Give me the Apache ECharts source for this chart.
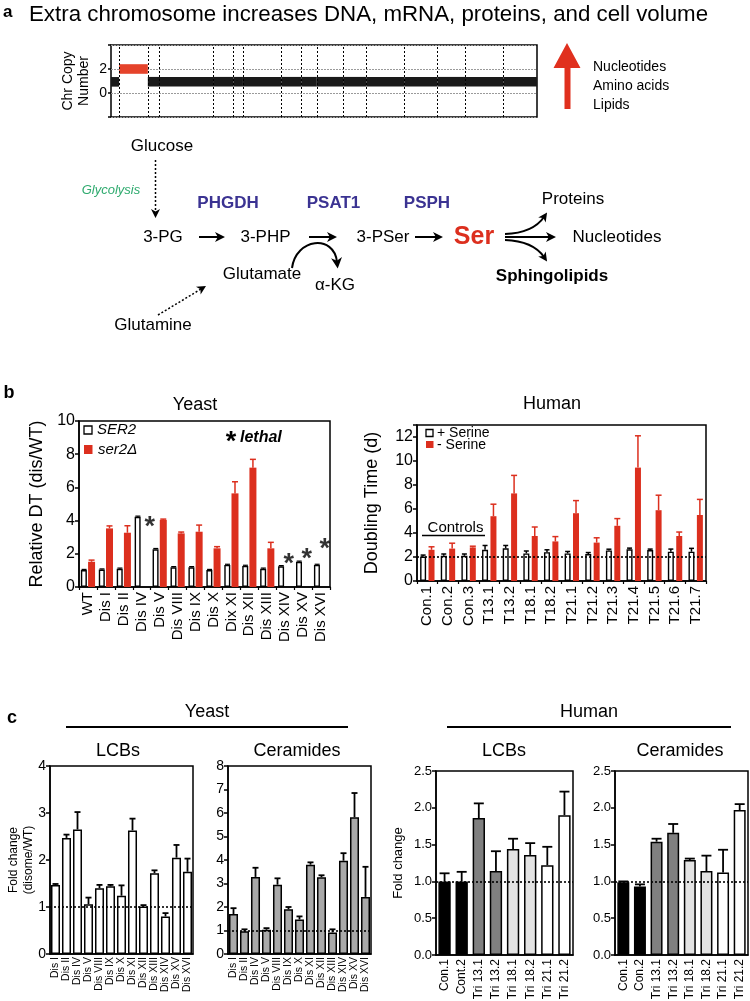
<!DOCTYPE html>
<html>
<head>
<meta charset="utf-8">
<script src="https://cdn.jsdelivr.net/npm/echarts@6/dist/echarts.min.js"></script>
<style>
  html, body { margin: 0; padding: 0; background: #fff; }
  #main { width: 750px; height: 1001px; }
</style>
</head>
<body>
<div id="main"></div>
<script>
var FONT = 'Liberation Sans, Arial, Helvetica, sans-serif';
var RED = '#dc2f1e';

// ---- panel a: copy number along the yeast genome (chromosome lengths in kb)
var chrLengths = [230.2, 813.2, 316.6, 1531.9, 576.9, 270.2, 1090.9, 562.6, 439.9, 745.8, 666.8, 1078.2, 924.4, 784.3, 1091.3, 948.1];
var chrCopy = [0.93, 2.0, 0.94, 0.94, 0.94, 0.94, 0.94, 0.94, 0.94, 0.94, 0.94, 0.94, 0.94, 0.94, 0.94, 0.94];

// ---- panel b: yeast relative doubling time
var yeastStrains = ['WT', 'Dis I', 'Dis II', 'Dis IV', 'Dis V', 'Dis VIII', 'Dis IX', 'Dis X', 'Dix XI', 'Dis XII', 'Dis XIII', 'Dis XIV', 'Dis XV', 'Dis XVI'];
var ser2DT = [1.02, 1.05, 1.1, 4.23, 2.27, 1.19, 1.19, 1.02, 1.33, 1.27, 1.1, 1.25, 1.52, 1.33];
var ser2Err = [0.04, 0.04, 0.04, 0.04, 0.05, 0.04, 0.04, 0.04, 0.04, 0.04, 0.04, 0.04, 0.04, 0.04];
var ser2delDT = [1.52, 3.53, 3.27, null, 4.04, 3.23, 3.33, 2.33, 5.64, 7.19, 2.33, null, null, null];
var ser2delErr = [0.1, 0.15, 0.42, 0, 0.05, 0.08, 0.4, 0.1, 0.7, 0.5, 0.36, 0, 0, 0];
var lethalStrains = ['Dis IV', 'Dis XIV', 'Dis XV', 'Dis XVI'];
var lethalMarkY = [4.02, 1.8, 2.1, 2.65];

// ---- panel b: human doubling time (days)
var humanLines = ['Con.1', 'Con.2', 'Con.3', 'T13.1', 'T13.2', 'T18.1', 'T18.2', 'T21.1', 'T21.2', 'T21.3', 'T21.4', 'T21.5', 'T21.6', 'T21.7'];
var plusSerine = [2.04, 2.1, 2.1, 2.6, 2.72, 2.3, 2.4, 2.3, 2.25, 2.55, 2.64, 2.58, 2.44, 2.44];
var plusSerineErr = [0.12, 0.15, 0.15, 0.36, 0.24, 0.2, 0.2, 0.16, 0.12, 0.1, 0.1, 0.08, 0.22, 0.28];
var minusSerine = [2.6, 2.7, 2.8, 5.4, 7.3, 3.75, 3.3, 5.65, 3.2, 4.6, 9.45, 5.9, 3.75, 5.5];
var minusSerineErr = [0.25, 0.45, 0.1, 1.0, 1.5, 0.75, 0.4, 1.05, 0.4, 0.6, 2.65, 1.25, 0.33, 1.3];

// ---- panel c: sphingolipids, yeast disomes (fold change vs WT)
var yeastDisomes = ['Dis I', 'Dis II', 'Dis IV', 'Dis V', 'Dis VIII', 'Dis IX', 'Dis X', 'Dis XI', 'Dis XII', 'Dis XIII', 'Dis XIV', 'Dis XV', 'Dis XVI'];
var yeastLCB = [1.47, 2.47, 2.65, 1.06, 1.4, 1.44, 1.24, 2.63, 1.01, 1.72, 0.8, 2.05, 1.75];
var yeastLCBErr = [0.02, 0.07, 0.37, 0.14, 0.07, 0.03, 0.22, 0.25, 0.03, 0.06, 0.07, 0.27, 0.28];
var yeastCer = [1.7, 0.97, 3.28, 1.03, 2.95, 1.9, 1.47, 3.8, 3.27, 0.92, 3.97, 5.82, 2.43];
var yeastCerErr = [0.25, 0.08, 0.39, 0.07, 0.27, 0.1, 0.13, 0.1, 0.08, 0.13, 0.32, 1.03, 1.28];

// ---- panel c: sphingolipids, human trisomies
var humanLCBLines = ['Con.1', 'Cont.2', 'Tri 13.1', 'Tri 13.2', 'Tri 18.1', 'Tri 18.2', 'Tri 21.1', 'Tri 21.2'];
var humanCerLines = ['Con.1', 'Con.2', 'Tri 13.1', 'Tri 13.2', 'Tri 18.1', 'Tri 18.2', 'Tri 21.1', 'Tri 21.2'];
var humanLCB = [1.0, 1.0, 1.86, 1.14, 1.44, 1.36, 1.22, 1.9];
var humanLCBErr = [0.11, 0.13, 0.2, 0.27, 0.14, 0.16, 0.25, 0.32];
var humanCer = [0.99, 0.93, 1.54, 1.66, 1.29, 1.14, 1.12, 1.97];
var humanCerErr = [0.01, 0.03, 0.04, 0.12, 0.02, 0.21, 0.31, 0.08];

// fill per karyotype group (control, T13, T18, T21)
var groupFill = ['#000', '#000', '#808080', '#808080', '#e3e3e3', '#e3e3e3', '#fff', '#fff'];

// chromosome segments [start, end, copy]
var chrSegs = [];
var acc = 0;
chrLengths.forEach(function (l, i) { chrSegs.push([acc, acc + l, chrCopy[i]]); acc += l; });
var genomeLen = acc;
var chrBounds = chrSegs.slice(0, -1).map(function (s) { return { xAxis: s[1] }; });

var myChart = echarts.init(document.getElementById('main'));

function gridBox(left, top, width, height) {
  return { left: left, top: top, width: width, height: height, show: true, borderColor: '#000', borderWidth: 1.5,
    containLabel: false, outerBoundsMode: 'none' };
}

function catAxis(gi, data, fs, margin, tick) {
  return { type: 'category', gridIndex: gi, data: data,
    axisLine: { show: true, lineStyle: { color: '#000', width: 1.5 } },
    axisTick: { show: !!tick, length: 3, lineStyle: { color: '#000', width: 1.2 } },
    axisLabel: { interval: 0, rotate: 90, fontSize: fs, color: '#000', fontFamily: FONT, margin: margin },
    splitLine: { show: false } };
}

function valAxis(gi, min, max, step, fs, fmt) {
  return { type: 'value', gridIndex: gi, min: min, max: max, interval: step,
    axisLine: { show: true, lineStyle: { color: '#000', width: 1.5 } },
    axisTick: { show: true, length: 4, lineStyle: { color: '#000', width: 1.5 } },
    axisLabel: { fontSize: fs, color: '#000', fontFamily: FONT, margin: 4, formatter: fmt },
    splitLine: { show: false } };
}

// axis title; the gap runs to the near edge of the rotated text
function yName(axis, name, gap, fs, lh) {
  axis.name = name;
  axis.nameLocation = 'middle';
  axis.nameRotate = 90;
  axis.nameGap = gap;
  axis.nameMoveOverlap = false;
  axis.nameTextStyle = { fontSize: fs, color: '#000', fontFamily: FONT, lineHeight: lh || fs };
  return axis;
}

// upper error bars drawn through the axes
function errorBars(gi, vals, errs, dx, cap, color, lw) {
  var data = [];
  vals.forEach(function (v, i) { if (v != null && errs[i] > 0) data.push([i, v, errs[i]]); });
  return { type: 'custom', xAxisIndex: gi, yAxisIndex: gi, data: data, silent: true, z: 3,
    encode: { x: 0, y: 1 },
    renderItem: function (params, api) {
      var b = api.coord([api.value(0), api.value(1)]);
      var t = api.coord([api.value(0), api.value(1) + api.value(2)]);
      var x = b[0] + dx;
      return { type: 'group', children: [
        { type: 'line', shape: { x1: x, y1: b[1], x2: x, y2: t[1] }, style: { stroke: color, lineWidth: lw } },
        { type: 'line', shape: { x1: x - cap, y1: t[1], x2: x + cap, y2: t[1] }, style: { stroke: color, lineWidth: lw } }
      ] };
    } };
}

function dotLine(y) {
  return { silent: true, symbol: 'none', label: { show: false },
    lineStyle: { color: '#000', width: 1.6, type: [2, 2] }, data: [{ yAxis: y }] };
}

// ---------- graphic: texts, pathway and arrows
var g = [];
function txt(x, y, s, o) {
  o = o || {};
  g.push({ type: 'text', x: x, y: y, z: 10, style: { text: s, fontSize: o.fs || 17, fontFamily: FONT,
    fill: o.color || '#000', fontWeight: o.fw || 'normal', fontStyle: o.it ? 'italic' : 'normal',
    align: o.align || 'center', verticalAlign: 'middle' } });
}
function head(from, tip, hl, hw, col) {
  var a = Math.atan2(tip[1] - from[1], tip[0] - from[0]);
  var c = Math.cos(a), s = Math.sin(a);
  var bx = tip[0] - hl * c, by = tip[1] - hl * s;
  var nx = tip[0] - hl * 0.72 * c, ny = tip[1] - hl * 0.72 * s;
  g.push({ type: 'polygon', z: 10, shape: { points: [[tip[0], tip[1]], [bx - hw * s, by + hw * c], [nx, ny], [bx + hw * s, by - hw * c]] },
    style: { fill: col } });
}
function arrow(x1, y1, x2, y2, o) {
  o = o || {};
  var col = o.color || '#000', hl = o.hl || 10, hw = o.hw || 5;
  var a = Math.atan2(y2 - y1, x2 - x1);
  g.push({ type: 'line', z: 10, shape: { x1: x1, y1: y1, x2: x2 - hl * 0.6 * Math.cos(a), y2: y2 - hl * 0.6 * Math.sin(a) },
    style: { stroke: col, lineWidth: o.lw || 2, lineDash: o.dash || null } });
  head([x1, y1], [x2, y2], hl, hw, col);
}
function curveArrow(p0, c1, c2, p3, o) {
  o = o || {};
  var col = o.color || '#000', hl = o.hl || 10, hw = o.hw || 5;
  var shape = { x1: p0[0], y1: p0[1], x2: p3[0], y2: p3[1], cpx1: c1[0], cpy1: c1[1] };
  if (c2) { shape.cpx2 = c2[0]; shape.cpy2 = c2[1]; }
  g.push({ type: 'bezierCurve', z: 10, shape: shape, style: { stroke: col, lineWidth: o.lw || 2, fill: 'none' } });
  var from = c2 || c1;
  var a = Math.atan2(p3[1] - from[1], p3[0] - from[0]);
  head(from, [p3[0] + hl * 0.6 * Math.cos(a), p3[1] + hl * 0.6 * Math.sin(a)], hl, hw, col);
}

// panel a
txt(3, 12, 'a', { fs: 17, fw: 'bold', align: 'left' });
txt(29, 15, 'Extra chromosome increases DNA, mRNA, proteins, and cell volume', { fs: 22.3, align: 'left' });
g.push({ type: 'polygon', z: 10, shape: { points: [[567, 43], [580.5, 68], [570.5, 68], [570.5, 109], [564.5, 109], [564.5, 68], [553.5, 68]] },
  style: { fill: '#e0301e' } });
txt(593, 67, 'Nucleotides', { fs: 14, align: 'left' });
txt(593, 86, 'Amino acids', { fs: 14, align: 'left' });
txt(593, 105, 'Lipids', { fs: 14, align: 'left' });

txt(162, 146, 'Glucose');
arrow(155.5, 160, 155.5, 218, { lw: 1.5, dash: [2, 2], hl: 9, hw: 4.5 });
txt(111, 190, 'Glycolysis', { fs: 13, it: true, color: '#2eaa6e' });
txt(228, 203, 'PHGDH', { fw: 'bold', color: '#3b3392' });
txt(333.5, 203, 'PSAT1', { fw: 'bold', color: '#3b3392' });
txt(427, 203, 'PSPH', { fw: 'bold', color: '#3b3392' });
txt(163, 237, '3-PG');
arrow(199, 237, 225, 237);
txt(265.5, 237, '3-PHP');
arrow(309, 237, 337, 237);
txt(383, 237, '3-PSer');
arrow(415, 237, 443, 237);
txt(474, 237, 'Ser', { fs: 25, fw: 'bold', color: RED });
arrow(505, 237, 556, 237);
curveArrow([505, 234], [533, 233], null, [544, 217], { hl: 9, hw: 4.5 });
curveArrow([505, 240], [533, 241], null, [544, 257], { hl: 9, hw: 4.5 });
txt(573, 199, 'Proteins');
txt(617, 237, 'Nucleotides');
txt(552, 276, 'Sphingolipids', { fw: 'bold' });
txt(262, 274, 'Glutamate');
curveArrow([292, 268], [296, 238], [334, 234], [337, 262], { hl: 11, hw: 5.5 });
txt(335, 285, '\u03b1-KG');
txt(153, 325, 'Glutamine');
arrow(158, 315, 206, 286, { lw: 1.5, dash: [2, 2], hl: 9, hw: 4.5 });

// panel b
txt(9, 393, 'b', { fs: 18, fw: 'bold' });
txt(195, 405, 'Yeast', { fs: 18 });
txt(552, 404, 'Human', { fs: 18 });
g.push({ type: 'rect', z: 10, shape: { x: 84, y: 426, width: 8, height: 8 }, style: { fill: '#fff', stroke: '#000', lineWidth: 1.3 } });
g.push({ type: 'rect', z: 10, shape: { x: 84, y: 445, width: 8.5, height: 9 }, style: { fill: RED } });
txt(97, 430, 'SER2', { fs: 15, it: true, align: 'left' });
txt(98, 450, 'ser2\u0394', { fs: 15, it: true, align: 'left' });
txt(231, 443, '*', { fs: 27, fw: 'bold' });
txt(240, 438, 'lethal', { fs: 16, fw: 'bold', it: true, align: 'left' });
g.push({ type: 'rect', z: 10, shape: { x: 426, y: 429.5, width: 7, height: 7 }, style: { fill: '#fff', stroke: '#000', lineWidth: 1.3 } });
g.push({ type: 'rect', z: 10, shape: { x: 426, y: 441, width: 7.5, height: 7 }, style: { fill: RED } });
txt(437, 433.5, '+ Serine', { fs: 14, align: 'left' });
txt(437, 445, '- Serine', { fs: 14, align: 'left' });
txt(455.5, 528, 'Controls', { fs: 15 });
g.push({ type: 'line', z: 10, shape: { x1: 422, y1: 535.5, x2: 485, y2: 535.5 }, style: { stroke: '#000', lineWidth: 1.5 } });

// panel c
txt(12, 718, 'c', { fs: 18, fw: 'bold' });
txt(207, 712, 'Yeast', { fs: 18 });
txt(589, 712, 'Human', { fs: 18 });
g.push({ type: 'line', z: 10, shape: { x1: 66, y1: 727, x2: 348, y2: 727 }, style: { stroke: '#000', lineWidth: 2 } });
g.push({ type: 'line', z: 10, shape: { x1: 447, y1: 727, x2: 731, y2: 727 }, style: { stroke: '#000', lineWidth: 2 } });
txt(118, 751, 'LCBs', { fs: 18 });
txt(297, 751, 'Ceramides', { fs: 18 });
txt(504, 751, 'LCBs', { fs: 18 });
txt(680, 751, 'Ceramides', { fs: 18 });

// ---------- axes
var yChr = yName(valAxis(0, -2, 4, 2, 14, function (v) { return (v === 0 || v === 2) ? v : ''; }), 'Chr Copy\nNumber', 19, 14, 16);
yChr.axisTick.length = 3;
yChr.axisLine.show = false;
yChr.splitLine = { show: true, lineStyle: { color: '#9a9a9a', width: 1, type: [2, 1] } };

var lethalData = lethalStrains.map(function (name, k) {
  var i = yeastStrains.indexOf(name);
  var dx = ser2DT[i] > lethalMarkY[k] ? 8 : 3.6;
  return { value: [i, lethalMarkY[k]], label: { offset: [dx, 7] } };
});

var option = {
  animation: false,
  textStyle: { fontFamily: FONT },
  grid: [
    gridBox(111, 45, 426, 72),
    gridBox(79, 421, 251, 166),
    gridBox(417, 425, 289, 156),
    gridBox(50, 766, 143, 188),
    gridBox(228, 766, 143, 188),
    gridBox(436, 771, 137, 184),
    gridBox(615, 771, 133, 184)
  ],
  xAxis: [
    { type: 'value', gridIndex: 0, min: 0, max: genomeLen, show: false },
    catAxis(1, yeastStrains, 15, 5, true),
    catAxis(2, humanLines, 15, 5, true),
    catAxis(3, yeastDisomes, 10.5, 3),
    catAxis(4, yeastDisomes, 10.5, 3),
    catAxis(5, humanLCBLines, 12, 4),
    catAxis(6, humanCerLines, 12, 4)
  ],
  yAxis: [
    yChr,
    yName(valAxis(1, 0, 10, 2, 16), 'Relative DT (dis/WT)', 33, 18),
    yName(valAxis(2, 0, 13, 2, 16, function (v) { return v > 12 ? '' : v; }), 'Doubling Time (d)', 36, 18),
    yName(valAxis(3, 0, 4, 1, 14), 'Fold change\n(disome/WT)', 13.5, 12, 15),
    valAxis(4, 0, 8, 1, 14),
    yName(valAxis(5, 0, 2.5, 0.5, 13, function (v) { return v.toFixed(1); }), 'Fold change', 31.5, 13),
    valAxis(6, 0, 2.5, 0.5, 13, function (v) { return v.toFixed(1); })
  ],
  series: [
    { type: 'custom', name: 'copy', xAxisIndex: 0, yAxisIndex: 0, data: chrSegs, silent: true,
      encode: { x: [0, 1], y: 2 },
      renderItem: function (params, api) {
        var s = api.coord([api.value(0), api.value(2)]);
        var e = api.coord([api.value(1), api.value(2)]);
        var h = api.size([0, 0.8])[1];
        return { type: 'rect', shape: { x: s[0], y: s[1] - h / 2, width: e[0] - s[0], height: h },
          style: { fill: api.value(2) > 1.5 ? '#e5432b' : '#1a1a1a' } };
      },
      markLine: { silent: true, symbol: 'none', label: { show: false },
        lineStyle: { color: '#000', width: 1, type: [2, 2] }, data: chrBounds } },

    { type: 'bar', name: 'SER2', xAxisIndex: 1, yAxisIndex: 1, data: ser2DT, barWidth: 6, barGap: '20%',
      itemStyle: { color: '#fff', borderColor: '#000', borderWidth: 1.4 } },
    { type: 'bar', name: 'ser2\u0394', xAxisIndex: 1, yAxisIndex: 1, barWidth: 7, barGap: '20%',
      data: ser2delDT.map(function (v) { return v == null ? '-' : v; }), itemStyle: { color: RED } },
    errorBars(1, ser2DT, ser2Err, -3.9, 2.5, '#000', 1.2),
    errorBars(1, ser2delDT, ser2delErr, 3.6, 3, RED, 1.5),
    { type: 'scatter', name: 'lethal', xAxisIndex: 1, yAxisIndex: 1, data: lethalData, symbolSize: 1,
      itemStyle: { color: 'rgba(0,0,0,0)' }, silent: true, z: 5,
      label: { show: true, formatter: '*', position: 'inside', fontSize: 27, fontWeight: 'bold', color: '#000', fontFamily: FONT } },

    { type: 'bar', name: '+ Serine', xAxisIndex: 2, yAxisIndex: 2, data: plusSerine, barWidth: 6, barGap: '40%',
      itemStyle: { color: '#fff', borderColor: '#000', borderWidth: 1.4 }, markLine: dotLine(2) },
    { type: 'bar', name: '- Serine', xAxisIndex: 2, yAxisIndex: 2, data: minusSerine, barWidth: 6, barGap: '40%',
      itemStyle: { color: RED } },
    errorBars(2, plusSerine, plusSerineErr, -4.2, 2.5, '#000', 1.5),
    errorBars(2, minusSerine, minusSerineErr, 4.2, 3, RED, 1.5),

    { type: 'bar', name: 'yeast LCBs', xAxisIndex: 3, yAxisIndex: 3, data: yeastLCB, barCategoryGap: '18%',
      itemStyle: { color: '#fff', borderColor: '#000', borderWidth: 1.5 }, markLine: dotLine(1) },
    errorBars(3, yeastLCB, yeastLCBErr, 0, 3, '#000', 1.8),
    { type: 'bar', name: 'yeast Cer', xAxisIndex: 4, yAxisIndex: 4, data: yeastCer, barCategoryGap: '18%',
      itemStyle: { color: '#a9a9a9', borderColor: '#000', borderWidth: 1.5 }, markLine: dotLine(1) },
    errorBars(4, yeastCer, yeastCerErr, 0, 3, '#000', 1.8),

    { type: 'bar', name: 'human LCBs', xAxisIndex: 5, yAxisIndex: 5, data: humanLCB, barCategoryGap: '28%',
      itemStyle: { color: function (p) { return groupFill[p.dataIndex]; }, borderColor: '#000', borderWidth: 1.5 },
      markLine: dotLine(1) },
    errorBars(5, humanLCB, humanLCBErr, 0, 5, '#000', 1.8),
    { type: 'bar', name: 'human Cer', xAxisIndex: 6, yAxisIndex: 6, data: humanCer, barCategoryGap: '28%',
      itemStyle: { color: function (p) { return groupFill[p.dataIndex]; }, borderColor: '#000', borderWidth: 1.5 },
      markLine: dotLine(1) },
    errorBars(6, humanCer, humanCerErr, 0, 5, '#000', 1.8)
  ],
  graphic: { elements: g }
};

myChart.setOption(option);
window.addEventListener('resize', function () { myChart.resize(); });
</script>
</body>
</html>
